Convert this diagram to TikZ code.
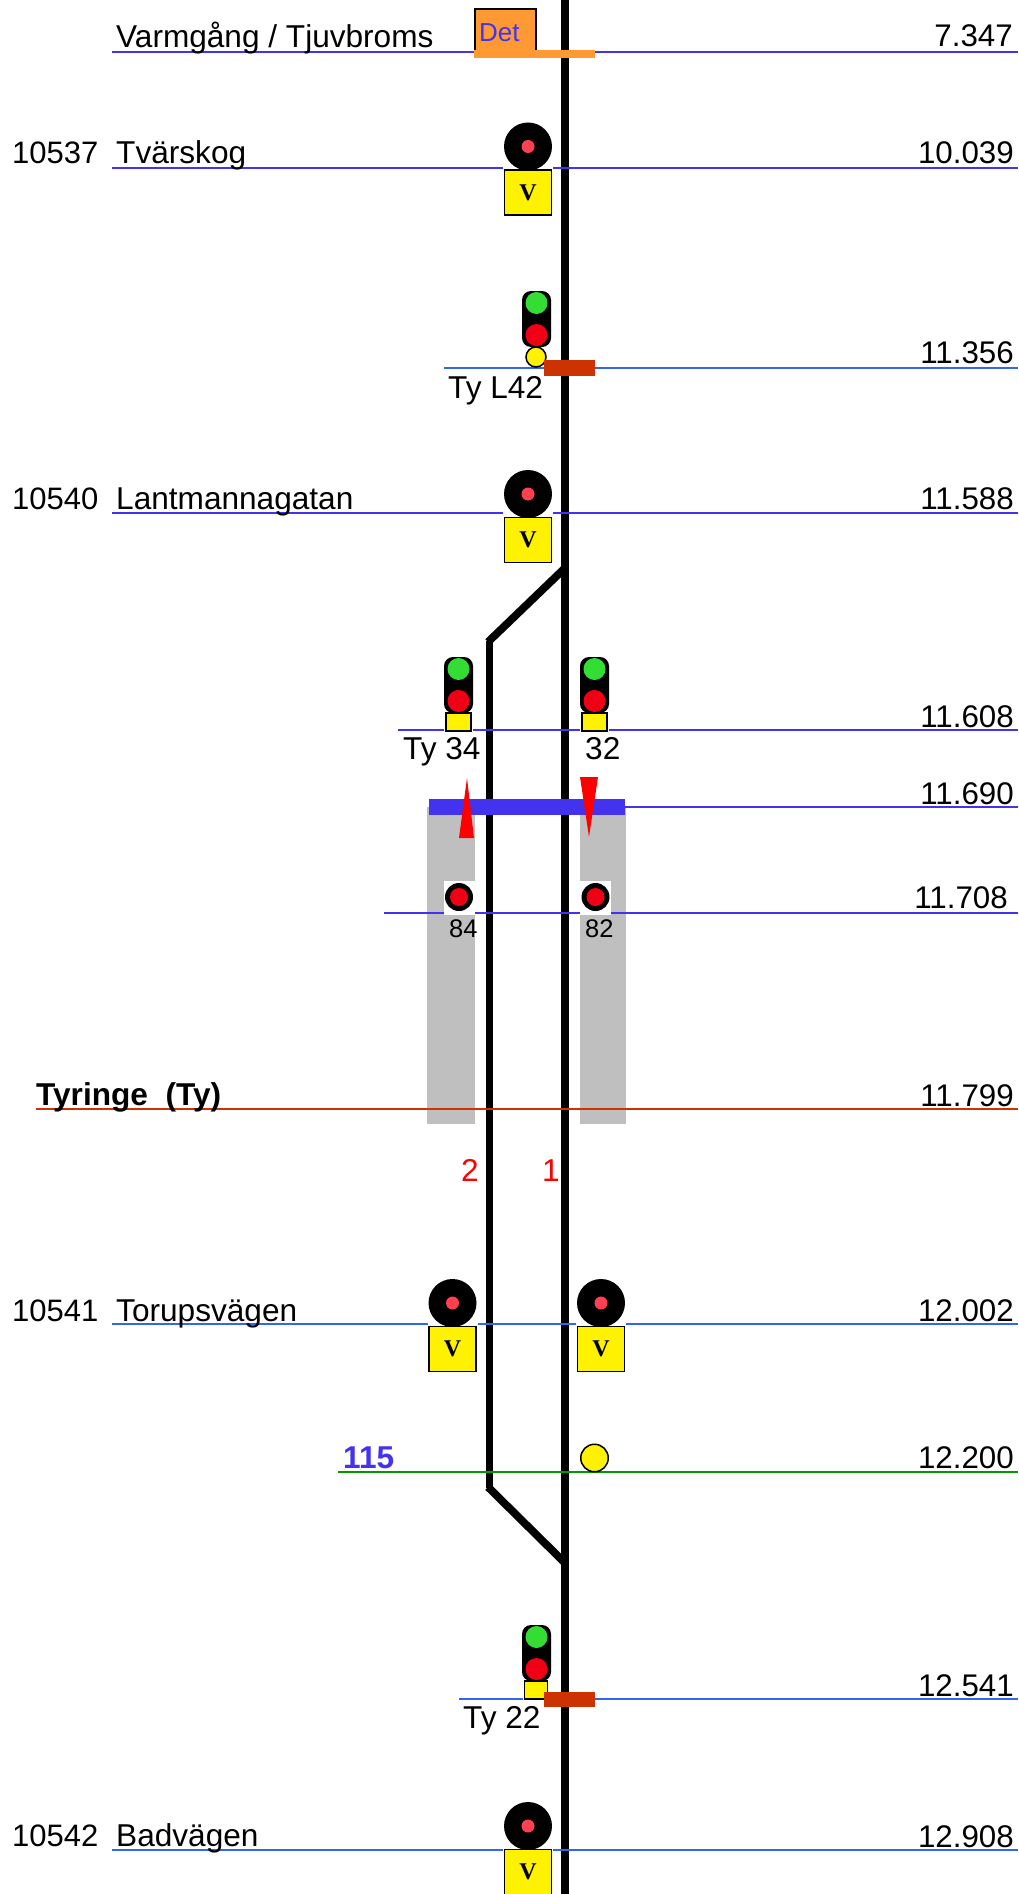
\documentclass[tikz,border=0pt]{standalone}
\usepackage{fontspec}
\setmainfont{Liberation Sans}
\newfontfamily\vfont{Liberation Serif}
\usetikzlibrary{positioning}
\definecolor{linev}{HTML}{4433EE}
\definecolor{lineb}{HTML}{3366EE}
\definecolor{lineg}{HTML}{009900}
\definecolor{brickr}{HTML}{CC3300}
\definecolor{detor}{HTML}{FF9933}
\definecolor{zonegr}{HTML}{BFBFBF}
\definecolor{lampg}{HTML}{33DD33}
\definecolor{lampr}{HTML}{F00014}
\definecolor{lampd}{HTML}{FF4050}
\tikzset{
  txt/.style = {inner sep=0pt, anchor=base west, font=\fontsize{31.6}{36}\selectfont},
  num/.style = {txt, font=\fontsize{31}{36}\selectfont},
  km/.style = {inner sep=0pt, anchor=base east, font=\fontsize{31.3}{36}\selectfont},
  track/.style = {line width=7.8pt, black},
  dot/.style = {circle, inner sep=0pt, minimum size=#1},
  vbox/.style = {rectangle, inner sep=0pt, minimum width=47pt, minimum height=45pt,
    fill=yellow, draw=black, line width=1.5pt, font=\vfont\bfseries\fontsize{24}{24}\selectfont},
  ybox/.style = {rectangle, inner sep=0pt, minimum width=25pt, minimum height=18pt,
    fill=yellow, draw=black, line width=1.5pt},
  bar/.style = {rectangle, inner sep=0pt},
  gap/.style = {fill=white, inner sep=0pt, minimum width=#1, minimum height=6pt},
  pics/vsignal/.style = {code = {
    \node (-w) [gap=50pt, minimum height=10pt] at (0,20) {};
    \node (-head) [dot=48pt, fill=black] at (0,0) {};
    \node (-lamp) [dot=13pt, fill=lampd] at (0,0) {};
    \node (-box) [vbox] at (0,46) {V};
  }},
  pics/mainsignal/.style = {code = {
    \node (-body) [rectangle, rounded corners=9pt, fill=black, inner sep=0pt,
      minimum width=29pt, minimum height=56pt] at (0,16) {};
    \node (-green) [dot=22pt, fill=lampg] at (0,0) {};
    \node (-red) [dot=22pt, fill=lampr] at (0,32) {};
  }},
  pics/smallsignal/.style = {code = {
    \node (-w) [fill=white, inner sep=0pt, minimum width=31pt, minimum height=34pt] at (0,0.5) {};
    \node (-head) [dot=28pt, fill=black] at (0,0) {};
    \node (-lamp) [dot=18pt, fill=lampr] at (0,0) {};
  }}
}
\begin{document}
\begin{tikzpicture}[x=1pt,y=-1pt]
\useasboundingbox (0,0) rectangle (1018,1894);
% grey platforms
\fill[zonegr] (427,807) rectangle (475,1124);
\fill[zonegr] (580,807) rectangle (626,1124);
% tracks
\coordinate (t1a) at (565,0);
\coordinate (t1b) at (565,1894);
\coordinate (t2a) at (489.5,641);
\coordinate (t2b) at (489.5,1488);
\draw[track] (t1a) -- (t1b);
\draw[track] (t2a) -- (t2b);
\draw[track] (565,568) -- (488,642);
\draw[track] (565,1563) -- (488,1487);
% km lines
\foreach \nm/\ypos/\xstart/\col/\up/\kmx/\kmt in {
  a/52/112/linev/5/1013/7.347,
  b/168.5/112/linev/4.5/1014/10.039,
  c/368/444/lineb/5/1014/11.356,
  d/513/112/linev/4/1014/11.588,
  e/730/398/linev/3/1014/11.608,
  f/807/625/linev/3/1014/11.690,
  g/913/384/linev/5/1008/11.708,
  h/1109/36/brickr/3/1014/11.799,
  i/1324/112/lineb/3/1014/12.002,
  j/1472/338/lineg/4/1014/12.200,
  k/1699/459/lineb/3/1014/12.541,
  l/1850/112/lineb/3/1014/12.908}{
  \coordinate (\nm0) at (\xstart,\ypos);
  \coordinate (\nm1) at (1018,\ypos);
  \draw[\col, line width=2pt] (\nm0) -- (\nm1);
  \node (km\nm) [km] at (\kmx,\ypos-\up) {\kmt};
}
% Det
\node (det) [bar, draw=black, line width=1.5pt, fill=detor, minimum width=61pt, minimum height=46pt,
  anchor=north west] at (474,8.5) {};
\node (dettxt) [inner sep=0pt, anchor=base west, text=linev, font=\fontsize{26}{26}\selectfont] at (479,42) {Det};
\node (detbar) [bar, fill=detor, minimum width=121pt, minimum height=8pt, anchor=north west] at (474,50) {};
% blue bar and arrows
\node (plat) [bar, fill=linev, minimum width=196pt, minimum height=16pt, anchor=north west] at (429,799) {};
\fill[red] (467,778) -- (474,838) -- (459,838) -- cycle;
\fill[red] (580,777) -- (598,777) -- (589,837) -- cycle;
% signals
\pic (s1) at (528,146.5) {vsignal};
\pic (s2) at (528,494) {vsignal};
\pic (s3) at (452.5,1303) {vsignal};
\pic (s4) at (601,1303) {vsignal};
\pic (s5) at (528,1826) {vsignal};
\pic (m1) at (536.5,303) {mainsignal};
\pic (m2) at (458.5,669) {mainsignal};
\pic (m3) at (594.5,669) {mainsignal};
\pic (m4) at (536.5,1637) {mainsignal};
\node (y1) [dot=20pt, fill=yellow, draw=black, line width=1.5pt] at (536,357) {};
\node (g2) [gap=29pt] at (458.5,730) {};
\node (g3) [gap=29pt] at (594.5,730) {};
\node (g4) [gap=26pt] at (536,1699) {};
\node (y2) [ybox] at (458.5,722) {};
\node (y3) [ybox] at (594.5,722) {};
\node (y4) [ybox, minimum width=23pt] at (536,1690) {};
\pic (o1) at (459,897) {smallsignal};
\pic (o2) at (595.5,897) {smallsignal};
\node (y5) [dot=27.5pt, fill=yellow, draw=black, line width=1.5pt] at (594.5,1458) {};
% stop boards
\node (brd1) [bar, fill=brickr, minimum width=51pt, minimum height=16pt, anchor=north west] at (544,360) {};
\node (brd2) [bar, fill=brickr, minimum width=51pt, minimum height=15pt, anchor=north west] at (544,1692) {};
% labels
\node (n1) [txt] at (116,47.5) {Varmgång / Tjuvbroms};
\node (n2) [num] at (12,164) {10537};
\node (n3) [txt] at (116,164) {Tvärskog};
\node (n4) [num] at (12,509) {10540};
\node (n5) [txt] at (116,509) {Lantmannagatan};
\node (n6) [num] at (12,1321) {10541};
\node (n7) [txt] at (116,1321) {Torupsvägen};
\node (n8) [num] at (12,1846) {10542};
\node (n9) [txt] at (116,1846) {Badvägen};
\node (n10) [txt, font=\bfseries\fontsize{31.6}{36}\selectfont] at (36,1105) {Tyringe\ \ (Ty)};
\node (n11) [txt, text=linev, font=\bfseries\fontsize{31.6}{36}\selectfont] at (343,1468) {115};
\node (n12) [txt] at (448,398) {Ty L42};
\node (n13) [txt] at (403,759) {Ty 34};
\node (n14) [txt] at (585,759) {32};
\node (n15) [txt] at (463,1728) {Ty 22};
\node (n16) [txt, font=\fontsize{25.5}{28}\selectfont] at (449,937) {84};
\node (n17) [txt, font=\fontsize{25.5}{28}\selectfont] at (585,937) {82};
\node (n18) [txt, text=red] at (461,1181) {2};
\node (n19) [txt, text=red] at (542,1181) {1};
\end{tikzpicture}
\end{document}
